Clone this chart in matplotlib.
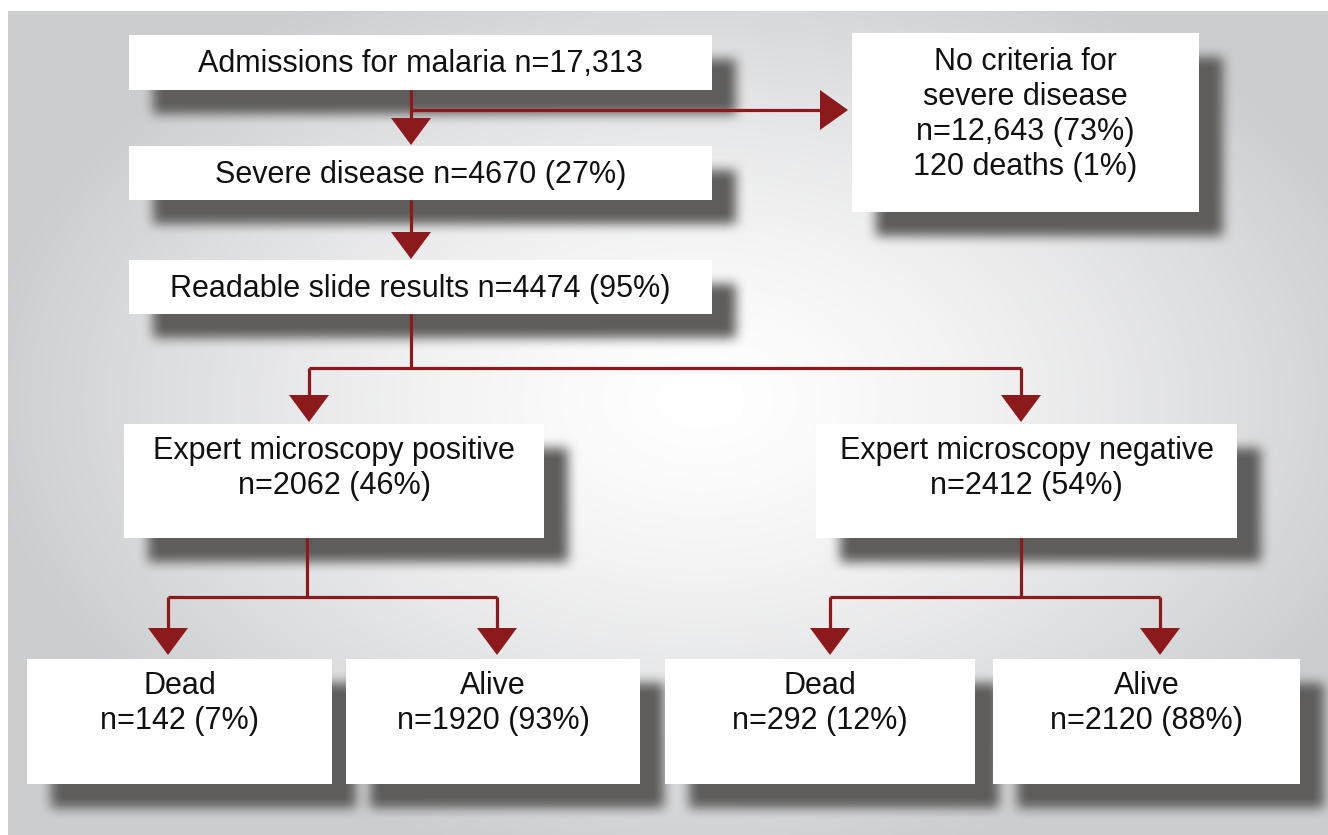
import numpy as np
import matplotlib
matplotlib.use('Agg')
import matplotlib.pyplot as plt
from matplotlib.patches import Rectangle, Polygon

W, H = 1328, 835

# flowchart text
admissions = ['Admissions for malaria n=17,313']
severe = ['Severe disease n=4670 (27%)']
readable = ['Readable slide results n=4474 (95%)']
no_criteria = ['No criteria for', 'severe disease', 'n=12,643 (73%)', '120 deaths (1%)']
positive = ['Expert microscopy positive', 'n=2062 (46%)']
negative = ['Expert microscopy negative', 'n=2412 (54%)']
outcome_labels = ['Dead', 'Alive', 'Dead', 'Alive']
outcome_counts = ['n=142 (7%)', 'n=1920 (93%)', 'n=292 (12%)', 'n=2120 (88%)']

# box layout in pixels: x0, y0, x1, y1, y of first text line (None = centred)
layout = {
    'adm': (129, 35, 712, 90, None),
    'sev': (129, 146, 712, 200, None),
    'read': (129, 260, 712, 314, None),
    'nocrit': (852, 33, 1199, 212, 62),
    'pos': (124, 424, 544, 538, 451),
    'neg': (816, 424, 1237, 538, 451),
    'd1': (27, 659, 332, 784, 686),
    'a1': (346, 659, 640, 784, 686),
    'd2': (665, 659, 975, 784, 686),
    'a2': (993, 659, 1300, 784, 686),
}
texts = {
    'adm': admissions, 'sev': severe, 'read': readable, 'nocrit': no_criteria,
    'pos': positive, 'neg': negative,
    'd1': [outcome_labels[0], outcome_counts[0]],
    'a1': [outcome_labels[1], outcome_counts[1]],
    'd2': [outcome_labels[2], outcome_counts[2]],
    'a2': [outcome_labels[3], outcome_counts[3]],
}

# background: radial gradient panel
yy, xx = np.mgrid[0:H, 0:W]
r = np.sqrt(((xx - 700) / 720.0) ** 2 + ((yy - 400) / 470.0) ** 2)
t = np.clip(r, 0, 1) ** 1.4
edge = np.array([0.80, 0.805, 0.815])
img = 1 - (1 - edge) * t[..., None]

# blurred drop shadows
dx, dy, pad = 24, 24, 30
mask = np.zeros((H + 2 * pad, W + 2 * pad))
for x0, y0, x1, y1, _ in layout.values():
    mask[y0 + dy + pad:y1 + dy + pad, x0 + dx + pad:x1 + dx + pad] = 1.0


def blur(a, k):
    for axis in (0, 1):
        out = np.zeros_like(a)
        for s in range(-k, k + 1):
            out += np.roll(a, s, axis=axis)
        a = out / (2 * k + 1)
    return a


mask = blur(blur(mask, 6), 6)[pad:pad + H, pad:pad + W]
shadow = np.array([0.37, 0.365, 0.36])
img = img * (1 - mask[..., None]) + shadow * mask[..., None]
img[:11, :] = 1.0
img[:, :8] = 1.0

fig = plt.figure(figsize=(W / 100, H / 100), dpi=100)
ax = fig.add_axes([0, 0, 1, 1])
ax.imshow(img, extent=(0, W, H, 0), interpolation='bilinear', zorder=0)
ax.set_xlim(0, W)
ax.set_ylim(H, 0)
ax.axis('off')

font = 'Liberation Sans'
for key, (x0, y0, x1, y1, ty) in layout.items():
    ax.add_patch(Rectangle((x0, y0), x1 - x0, y1 - y0, facecolor='white',
                           edgecolor='none', zorder=2))
    cx = (x0 + x1) / 2
    lines = texts[key]
    if ty is None:
        ty = (y0 + y1) / 2 + 2
    for i, line in enumerate(lines):
        ax.text(cx, ty + i * 35, line, ha='center', va='center', fontsize=22,
                family=font, color='#111111', zorder=4)

red = '#8c1a1c'
lw = 2.3


def line(xs, ys):
    ax.plot(xs, ys, color=red, lw=lw, solid_capstyle='butt', zorder=3)


def head_down(x, ytip):
    ax.add_patch(Polygon([(x - 20, ytip - 27), (x + 20, ytip - 27), (x, ytip)],
                         closed=True, facecolor=red, edgecolor='none', zorder=3))


def head_right(xtip, y):
    ax.add_patch(Polygon([(xtip - 28, y - 20), (xtip - 28, y + 20), (xtip, y)],
                         closed=True, facecolor=red, edgecolor='none', zorder=3))


# top chain
line([411, 411], [90, 120])
head_down(411, 145)
line([411, 822], [110, 110])
head_right(848, 110)
line([411, 411], [200, 234])
head_down(411, 259)

# split on readable slides
line([411, 411], [314, 368])
line([309, 1021], [368, 368])
line([309, 309], [368, 397])
line([1021, 1021], [368, 397])
head_down(309, 422)
head_down(1021, 422)

# outcome splits
for cx, left, right in [(307, 168, 497), (1021, 830, 1160)]:
    line([cx, cx], [538, 597])
    line([left, right], [597, 597])
    for x in (left, right):
        line([x, x], [597, 630])
        head_down(x, 655)

fig.savefig('out.png', dpi=100)
